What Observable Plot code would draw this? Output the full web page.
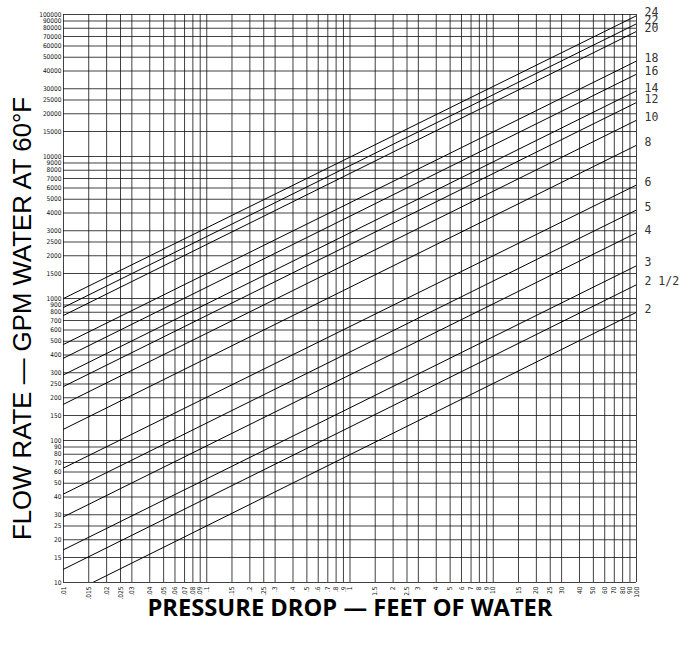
<!DOCTYPE html>
<html>
<head>
<meta charset="utf-8">
<script src="https://cdn.jsdelivr.net/npm/d3@7"></script>
<script src="https://cdn.jsdelivr.net/npm/@observablehq/plot@0.6"></script>
<style>
  html, body { margin: 0; padding: 0; background: #fff; }
</style>
</head>
<body>
<div id="chart"></div>
<script>
// Tick labels (also the grid positions)
const xTickLabels = [".01", ".015", ".02", ".025", ".03", ".04", ".05", ".06", ".07", ".08", ".09",
  ".1", ".15", ".2", ".25", ".3", ".4", ".5", ".6", ".7", ".8", ".9",
  "1", "1.5", "2", "2.5", "3", "4", "5", "6", "7", "8", "9",
  "10", "15", "20", "25", "30", "40", "50", "60", "70", "80", "90", "100"];
const yTickLabels = ["10", "15", "20", "25", "30", "40", "50", "60", "70", "80", "90",
  "100", "150", "200", "250", "300", "400", "500", "600", "700", "800", "900",
  "1000", "1500", "2000", "2500", "3000", "4000", "5000", "6000", "7000", "8000", "9000",
  "10000", "15000", "20000", "25000", "30000", "40000", "50000", "60000", "70000", "80000", "90000", "100000"];

// Pipe sizes and the flow read at the left (0.01 ft) and right (100 ft) ends of each line
const sizes  = ["2", "2 1/2", "3", "4", "5", "6", "8", "10", "12", "14", "16", "18", "20", "22", "24"];
const qLeft  = [7.9, 12.4, 17, 29, 42, 64, 120, 180, 240, 290, 380, 475, 760, 865, 1000];
const qRight = [800, 1250, 1700, 2900, 4200, 6300, 12000, 18000, 24000, 29000, 38000, 47000, 76000, 86000, 98000];
const xEnds = [0.01, 100];

const xTicks = xTickLabels.map(Number);
const yTicks = yTickLabels.map(Number);

const lineRows = sizes.flatMap((s, i) => [
  {size: s, x: xEnds[0], q: qLeft[i]},
  {size: s, x: xEnds[1], q: qRight[i]}
]);
const labelRows = sizes.map((s, i) => ({size: s, x: xEnds[1], q: qRight[i]}));

const chart = Plot.plot({
  width: 696,
  height: 649,
  marginLeft: 63,
  marginRight: 60,
  marginTop: 14,
  marginBottom: 67,
  style: {fontFamily: "'DejaVu Sans Condensed', 'DejaVu Sans', sans-serif", background: "#fff", color: "#111"},
  x: {type: "log", domain: [0.01, 100], axis: null},
  y: {type: "log", domain: [10, 100000], axis: null},
  marks: [
    Plot.ruleX(xTicks, {stroke: "#111", strokeWidth: 1, strokeOpacity: 0.8}),
    Plot.ruleY(yTicks, {stroke: "#111", strokeWidth: 1, strokeOpacity: 0.8}),
    Plot.line(lineRows, {x: "x", y: "q", z: "size", stroke: "#000", strokeWidth: 1, clip: true}),
    Plot.text(labelRows, {x: "x", y: "q", text: "size", dx: 8, dy: -3, textAnchor: "start",
      fontFamily: "'DejaVu Sans Mono', monospace", fontSize: 11.5, fill: "#333"}),
    // x tick labels (rotated, below the frame)
    Plot.text(xTicks, {x: (d) => d, text: (d, i) => xTickLabels[i], frameAnchor: "bottom",
      rotate: -90, textAnchor: "end", lineAnchor: "middle", dy: 4, fontSize: 6.5, fill: "#111"}),
    // y tick labels
    Plot.text(yTicks, {y: (d) => d, text: (d, i) => yTickLabels[i], frameAnchor: "left",
      textAnchor: "end", lineAnchor: "middle", dx: -2, fontSize: 6.5, fill: "#111"}),
    Plot.text(["PRESSURE DROP — FEET OF WATER"], {frameAnchor: "bottom", dy: 33,
      fontFamily: "'Open Sans', sans-serif", fontWeight: "bold", fontSize: 23.7, fill: "#000"}),
    Plot.text(["FLOW RATE — GPM WATER AT 60°F"], {frameAnchor: "left", dx: -41, dy: 20, rotate: -90,
      textAnchor: "middle", lineAnchor: "middle",
      fontFamily: "'Liberation Sans', Arial, sans-serif", fontSize: 25.8, fill: "#000"})
  ]
});
document.getElementById("chart").appendChild(chart);
</script>
</body>
</html>
